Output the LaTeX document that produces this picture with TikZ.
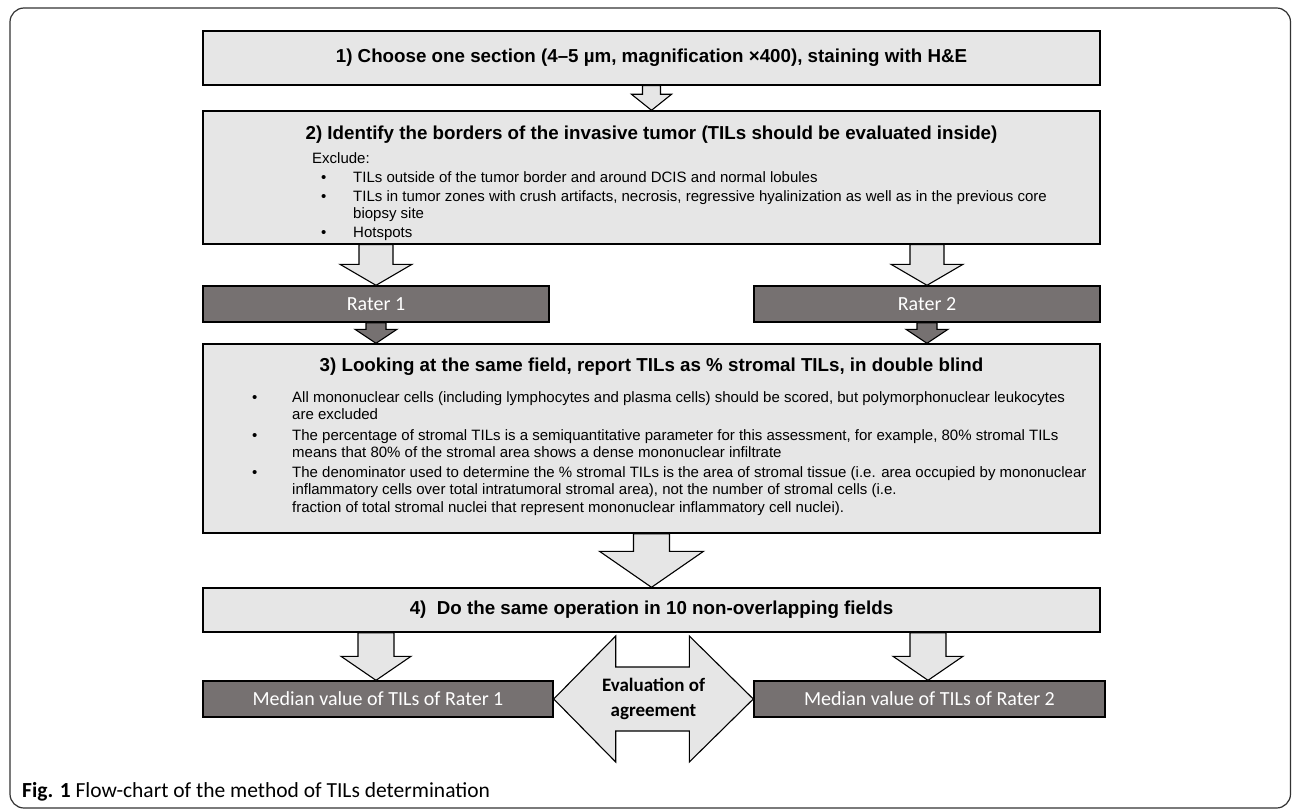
\documentclass[tikz,border=0pt]{standalone}
\usepackage{fontspec}
\setmainfont{Liberation Sans}
\newfontfamily\calibrifont{Carlito}
\usetikzlibrary{calc}

\definecolor{panelfill}{HTML}{E6E6E6}
\definecolor{raterfill}{HTML}{767171}

\newcommand{\bul}{\makebox[41pt][l]{\hspace{9pt}\textbullet}}
\newcommand{\bulb}{\makebox[40pt][l]{\textbullet}}

% block arrow pointing down, from the bottom of #3 to the top of #4
\newcommand{\fatdown}[7][lightarrow]{%
  \draw[#1] let \p1=(#3.south), \p2=(#4.north) in
    (#2pt-#5pt,\y1) -- (#2pt-#5pt,\y2+#7pt) -- (#2pt-#6pt,\y2+#7pt) -- (#2pt,\y2)
    -- (#2pt+#6pt,\y2+#7pt) -- (#2pt+#5pt,\y2+#7pt) -- (#2pt+#5pt,\y1) -- cycle;}

\begin{document}
\begin{tikzpicture}[x=1pt,y=-1pt,
    every node/.style={inner sep=0pt},
    panel/.style={draw=black,line width=1.4pt,fill=panelfill,minimum width=897pt},
    headtext/.style={font=\fontsize{18.75}{22}\selectfont\bfseries},
    body/.style={font=\fontsize{15}{17.25}\selectfont,align=left,anchor=north west},
    rater/.style={draw=black,line width=1.4pt,fill=raterfill,text=white,
      font=\calibrifont\fontsize{20}{24}\selectfont,minimum height=36pt},
    lightarrow/.style={draw=black,line width=1.1pt,fill=panelfill},
    darkarrow/.style={draw=black,line width=1.1pt,fill=raterfill}]
    \useasboundingbox (0,0) rectangle (1292,810);
    \draw[rounded corners=14pt,line width=1.2pt,draw=black!80] (10,8) rectangle (1290.5,808);

    \node[panel,headtext,minimum height=54pt] (choose) at (651.5,58)
        {1) Choose one section (4–5 µm, magnification ×400), staining with H\&E};

    \node[panel,minimum height=133pt] (identify) at (651.5,177.5) {};
    \node[headtext] (identifyhead) at (651.5,135)
        {2) Identify the borders of the invasive tumor (TILs should be evaluated inside)};
    \node[body] (exclude) at (312,152.5) {Exclude:\\[1.5pt]
        \bul TILs outside of the tumor border and around DCIS and normal lobules\\[1.5pt]
        \bul TILs in tumor zones with crush artifacts, necrosis, regressive hyalinization as well as in the previous core\\
        \hspace*{41pt}biopsy site\\[1.5pt]
        \bul Hotspots};

    \node[rater,minimum width=346pt] (rater1) at (376,304) {Rater 1};
    \node[rater,minimum width=346pt] (rater2) at (927,304) {Rater 2};

    \node[panel,minimum height=189pt] (looking) at (651.5,438.5) {};
    \node[headtext] (lookinghead) at (651.5,367)
        {3) Looking at the same field, report TILs as \% stromal TILs, in double blind};
    \node[body] (criteria) at (252,391.5) {%
        \bulb All mononuclear cells (including lymphocytes and plasma cells) should be scored, but polymorphonuclear leukocytes\\
        \hspace*{40pt}are excluded\\[3pt]
        \bulb The percentage of stromal TILs is a semiquantitative parameter for this assessment, for example, 80\% stromal TILs\\
        \hspace*{40pt}means that 80\% of the stromal area shows a dense mononuclear infiltrate\\[3pt]
        \bulb The denominator used to determine the \% stromal TILs is the area of stromal tissue (i.e. area occupied by mononuclear\\
        \hspace*{40pt}inflammatory cells over total intratumoral stromal area), not the number of stromal cells (i.e.\\
        \hspace*{40pt}fraction of total stromal nuclei that represent mononuclear inflammatory cell nuclei).};

    \node[panel,headtext,minimum height=44pt] (repeat) at (651.5,610)
        {4)\ \ Do the same operation in 10 non-overlapping fields};

    \node[rater,minimum width=350pt] (median1) at (378,699) {Median value of TILs of Rater 1};
    \node[rater,minimum width=351pt] (median2) at (929.5,699) {Median value of TILs of Rater 2};

    \fatdown{651.5}{choose}{identify}{9}{20}{16}
    \fatdown{376}{identify}{rater1}{17}{36}{21}
    \fatdown{927}{identify}{rater2}{17}{36}{21}
    \fatdown[darkarrow]{376}{rater1}{looking}{10}{21}{14}
    \fatdown[darkarrow]{927}{rater2}{looking}{10}{21}{14}
    \fatdown{651.5}{looking}{repeat}{18}{52}{36}
    \fatdown{376}{repeat}{median1}{18}{35}{24}
    \fatdown{928}{repeat}{median2}{18}{35}{24}

    \draw[lightarrow] let \p1=(median1.east), \p2=(median2.west) in
        (\x1,\y1) -- (\x1+62pt,\y1+63pt) -- (\x1+62pt,\y1+32pt) -- (\x2-64pt,\y2+32pt)
        -- (\x2-64pt,\y2+63pt) -- (\x2,\y2) -- (\x2-64pt,\y2-63pt) -- (\x2-64pt,\y2-32pt)
        -- (\x1+62pt,\y1-32pt) -- (\x1+62pt,\y1-63pt) -- cycle;
    \node[font=\calibrifont\bfseries\fontsize{19}{25}\selectfont,align=center] (agreement)
        at ($(median1.east)!0.5!(median2.west)$) {Evaluation of\\agreement};

    \node[anchor=west,font=\calibrifont\fontsize{21.5}{25}\selectfont] (caption) at (22,792)
        {\textbf{Fig. 1} Flow-chart of the method of TILs determination};
\end{tikzpicture}
\end{document}
